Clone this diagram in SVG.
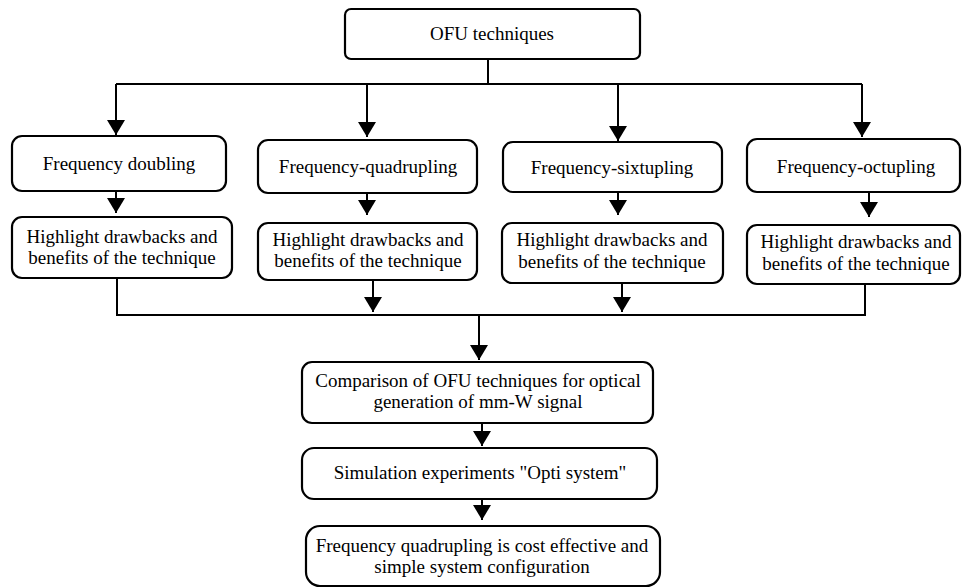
<svg xmlns="http://www.w3.org/2000/svg" width="962" height="588" viewBox="0 0 962 588">
<style>
.box{fill:#fff;stroke:#000;stroke-width:2.2}
.t{font-family:"Liberation Serif","Times New Roman",serif;font-size:19px;fill:#000;text-anchor:middle}
.c{fill:none;stroke:#000;stroke-width:2}
</style>
<defs>
<marker id="ah" markerUnits="userSpaceOnUse" viewBox="0 0 15 18" refX="15" refY="9" markerWidth="15" markerHeight="18" orient="auto">
<path d="M0,0 L15,9 L0,18 z" fill="#000"/>
</marker>
</defs>
<rect width="962" height="588" fill="#fff"/>
<g id="connectors">
<path class="c" d="M488,59 V84 M116,84 H862"/>
<path class="c" d="M116,84 V135" marker-end="url(#ah)"/>
<path class="c" d="M367,84 V137" marker-end="url(#ah)"/>
<path class="c" d="M618,84 V141" marker-end="url(#ah)"/>
<path class="c" d="M862,84 V137" marker-end="url(#ah)"/>
<path class="c" d="M116,191 V213" marker-end="url(#ah)"/>
<path class="c" d="M367,193 V215" marker-end="url(#ah)"/>
<path class="c" d="M618,192 V215" marker-end="url(#ah)"/>
<path class="c" d="M869,192 V217" marker-end="url(#ah)"/>
<path class="c" d="M117,278 V315 H865 V284"/>
<path class="c" d="M373,280 V312" marker-end="url(#ah)"/>
<path class="c" d="M622,283 V312" marker-end="url(#ah)"/>
<path class="c" d="M479,315 V360" marker-end="url(#ah)"/>
<path class="c" d="M482,423 V446" marker-end="url(#ah)"/>
<path class="c" d="M482,499 V520" marker-end="url(#ah)"/>
</g>
<g id="ofu"><rect class="box" x="345" y="9" width="295" height="50" rx="6"/><text class="t" x="492" y="40">OFU techniques</text></g>
<g id="doubling"><rect class="box" x="12" y="136" width="214" height="55" rx="10"/><text class="t" x="119" y="170">Frequency doubling</text></g>
<g id="quadrupling"><rect class="box" x="258" y="140" width="219" height="53" rx="10"/><text class="t" x="368" y="173">Frequency-quadrupling</text></g>
<g id="sixtupling"><rect class="box" x="503" y="142" width="219" height="50" rx="10"/><text class="t" x="612" y="174">Frequency-sixtupling</text></g>
<g id="octupling"><rect class="box" x="747" y="139" width="213" height="53" rx="10"/><text class="t" x="856" y="173">Frequency-octupling</text></g>
<g id="h1"><rect class="box" x="12" y="217" width="220" height="61" rx="10"/><text class="t" x="122" y="243">Highlight drawbacks and</text><text class="t" x="122" y="264">benefits of the technique</text></g>
<g id="h2"><rect class="box" x="258" y="223" width="219" height="57" rx="10"/><text class="t" x="368" y="246">Highlight drawbacks and</text><text class="t" x="368" y="267">benefits of the technique</text></g>
<g id="h3"><rect class="box" x="502" y="223" width="221" height="60" rx="10"/><text class="t" x="612" y="246">Highlight drawbacks and</text><text class="t" x="612" y="268">benefits of the technique</text></g>
<g id="h4"><rect class="box" x="747" y="225" width="213" height="59" rx="10"/><text class="t" x="856" y="248">Highlight drawbacks and</text><text class="t" x="856" y="270">benefits of the technique</text></g>
<g id="comparison"><rect class="box" x="302" y="362" width="351" height="61" rx="10"/><text class="t" x="478" y="387">Comparison of OFU techniques for optical</text><text class="t" x="478" y="408">generation of mm-W signal</text></g>
<g id="simulation"><rect class="box" x="302" y="448" width="355" height="51" rx="12"/><text class="t" x="480" y="479">Simulation experiments "Opti system"</text></g>
<g id="final"><rect class="box" x="306" y="526" width="354" height="60" rx="14"/><text class="t" x="482" y="552">Frequency quadrupling is cost effective and</text><text class="t" x="482" y="573">simple system configuration</text></g>
</svg>
